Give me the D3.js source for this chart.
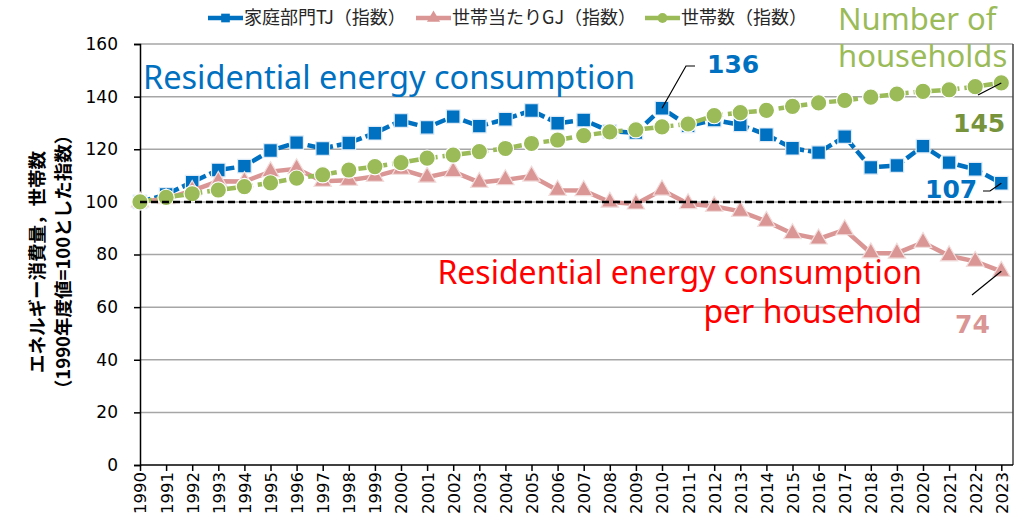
<!DOCTYPE html>
<html lang="ja">

<head>
    <meta charset="UTF-8">
    <title>家庭部門エネルギー消費量と世帯数</title>
    <script src="https://d3js.org/d3.v7.min.js"></script>
    <style>
        body {
            margin: 0;
            background: #fff;
        }

        svg text {
            font-family: "DejaVu Sans", sans-serif;
        }

        .jp {
            font-family: "Noto Sans CJK JP", sans-serif;
        }

        .note {
            font-family: "Noto Sans", sans-serif;
        }
    </style>
</head>

<body>
    <div id="chart"></div>

    <script>
        // ---- data ----
        const years = [1990, 1991, 1992, 1993, 1994, 1995, 1996, 1997, 1998, 1999,
            2000, 2001, 2002, 2003, 2004, 2005, 2006, 2007, 2008, 2009,
            2010, 2011, 2012, 2013, 2014, 2015, 2016, 2017, 2018, 2019,
            2020, 2021, 2022, 2023];

        // 家庭部門TJ（指数）
        const residentialTJ = [100, 102.8, 107.5, 112.1, 113.6, 119.5, 122.5, 120.3, 122.4, 126.1,
            130.9, 128.3, 132.4, 128.8, 131.4, 134.7, 129.9, 131.1, 126.8, 126.3,
            135.6, 128.9, 131.1, 129.3, 125.5, 120.4, 118.7, 124.8, 113.1, 113.8,
            121.2, 114.9, 112.4, 107.1];

        // 世帯当たりGJ（指数）
        const perHouseholdGJ = [100, 101.2, 104.3, 107.8, 107.7, 111.5, 112.6, 107.8, 108.2, 109.7,
            112.4, 109.4, 111.5, 107.4, 108.4, 109.8, 104.4, 104.3, 99.9, 99.2,
            104.5, 99.3, 98.3, 96.4, 92.6, 87.9, 85.9, 89.4, 80.6, 80.5,
            84.6, 79.5, 77.4, 73.6];

        // 世帯数（指数）
        const households = [100, 101.7, 103.1, 104.5, 105.8, 107.2, 109.0, 110.3, 112.1, 113.4,
            114.9, 116.6, 117.8, 119.1, 120.3, 122.2, 123.5, 125.2, 126.6, 127.4,
            128.5, 129.6, 132.8, 133.9, 134.8, 136.3, 137.6, 138.6, 139.8, 141.0,
            142.0, 142.6, 143.8, 145.2];

        const yTicks = [0, 20, 40, 60, 80, 100, 120, 140, 160];
        const seriesNames = ["家庭部門TJ（指数）", "世帯当たりGJ（指数）", "世帯数（指数）"];

        const width = 1017;
        const height = 526;
        const plot = { left: 140, right: 1001.3, edge: 1013, top: 44, bottom: 465 };

        const svg = d3.select("#chart")
            .append("svg")
            .attr("width", width)
            .attr("height", height);

        const x = d3.scalePoint()
            .domain(years)
            .range([plot.left, plot.right]);

        const y = d3.scaleLinear()
            .domain([0, 160])
            .range([plot.bottom, plot.top]);

        // ---- grid + frame ----
        svg.append("g")
            .selectAll("line")
            .data(yTicks.filter(d => d > 0))
            .join("line")
            .attr("x1", plot.left)
            .attr("x2", plot.edge)
            .attr("y1", d => y(d))
            .attr("y2", d => y(d))
            .attr("stroke", "#a6a6a6")
            .attr("stroke-width", 1.5);

        svg.append("line")
            .attr("x1", plot.edge).attr("x2", plot.edge)
            .attr("y1", plot.top).attr("y2", plot.bottom)
            .attr("stroke", "#404040")
            .attr("stroke-width", 1.5);

        // ---- axes ----
        const yAxis = svg.append("g")
            .attr("transform", `translate(${plot.left},0)`)
            .call(d3.axisLeft(y).tickValues(yTicks).tickSize(6).tickPadding(16));

        yAxis.selectAll("text")
            .attr("font-size", 17)
            .attr("fill", "#000");

        const xAxis = svg.append("g")
            .attr("transform", `translate(0,${plot.bottom})`)
            .call(d3.axisBottom(x).tickSize(6).tickSizeOuter(0));

        xAxis.select(".domain").attr("d", `M${plot.left},0H${plot.edge}`);

        xAxis.selectAll("text")
            .attr("font-size", 16.5)
            .attr("fill", "#000")
            .attr("text-anchor", "end")
            .attr("transform", "rotate(-90)")
            .attr("x", -7)
            .attr("y", 0)
            .attr("dy", "0.36em");

        svg.selectAll(".domain, .tick line")
            .attr("stroke", "#000")
            .attr("stroke-width", 1.5);

        // y axis title (two rotated lines)
        const title = svg.append("text")
            .attr("class", "jp")
            .attr("transform", `translate(0,262) rotate(-90)`)
            .attr("text-anchor", "middle")
            .attr("font-size", 18.5)
            .attr("font-weight", "bold");
        title.append("tspan").attr("x", 0).attr("y", 44).text("エネルギー消費量，世帯数");
        title.append("tspan").attr("x", 0).attr("y", 70).text("（1990年度値=100とした指数）");

        // ---- series ----
        const series = [
            { name: seriesNames[0], values: residentialTJ, color: "#0070c0", dash: "11,4", marker: "square" },
            { name: seriesNames[1], values: perHouseholdGJ, color: "#d99694", dash: null, marker: "triangle" },
            { name: seriesNames[2], values: households, color: "#9bbb59", dash: "12,5", marker: "circle" }
        ];

        const symbolType = { square: d3.symbolSquare, triangle: d3.symbolTriangle, circle: d3.symbolCircle };
        const symbolSize = { square: 185, triangle: 130, circle: 210 };
        const markerStroke = { square: "#deebf7", triangle: "#f2dcdb", circle: "#fff" };

        const line = d3.line()
            .x((d, i) => x(years[i]))
            .y(d => y(d));

        series.forEach(s => {
            const g = svg.append("g");
            g.append("path")
                .datum(s.values)
                .attr("d", line)
                .attr("fill", "none")
                .attr("stroke", s.color)
                .attr("stroke-width", 4.5)
                .attr("stroke-dasharray", s.dash);

            g.selectAll("path.mk")
                .data(s.values)
                .join("path")
                .attr("class", "mk")
                .attr("d", d3.symbol(symbolType[s.marker], symbolSize[s.marker]))
                .attr("transform", (d, i) => `translate(${x(years[i])},${y(d)})`)
                .attr("fill", s.color)
                .attr("stroke", markerStroke[s.marker])
                .attr("stroke-width", 1.2);
        });

        // 100 reference line on top
        svg.append("line")
            .attr("x1", plot.left)
            .attr("x2", plot.right)
            .attr("y1", y(100))
            .attr("y2", y(100))
            .attr("stroke", "#000")
            .attr("stroke-width", 2.5)
            .attr("stroke-dasharray", "7,4");

        // ---- legend ----
        const legendX = [208, 416, 645];
        const legend = svg.append("g");
        series.forEach((s, i) => {
            const lg = legend.append("g").attr("transform", `translate(${legendX[i]},18)`);
            lg.append("line")
                .attr("x1", 0).attr("x2", 35)
                .attr("stroke", s.color)
                .attr("stroke-width", 4.5);
            lg.append("path")
                .attr("d", d3.symbol(symbolType[s.marker], 75)())
                .attr("transform", "translate(17.5,0)")
                .attr("fill", s.color);
            lg.append("text")
                .attr("class", "jp")
                .attr("x", 36)
                .attr("dy", "0.36em")
                .attr("font-size", 18)
                .attr("fill", "#262626")
                .text(s.name);
        });

        // ---- annotations ----
        const last = years.length - 1;
        const i2010 = years.indexOf(2010);

        svg.append("text").attr("class", "note")
            .attr("x", 143).attr("y", 89)
            .attr("font-size", 32.5).attr("fill", "#0070c0")
            .text("Residential energy consumption");

        svg.append("text").attr("class", "note")
            .attr("x", 922).attr("y", 284)
            .attr("text-anchor", "end")
            .attr("font-size", 32).attr("fill", "#ff0000")
            .text("Residential energy consumption");
        svg.append("text").attr("class", "note")
            .attr("x", 922).attr("y", 323)
            .attr("text-anchor", "end")
            .attr("font-size", 32).attr("fill", "#ff0000")
            .text("per household");

        svg.append("text").attr("class", "note")
            .attr("x", 838).attr("y", 30)
            .attr("font-size", 31).attr("fill", "#9bbb59")
            .text("Number of");
        svg.append("text").attr("class", "note")
            .attr("x", 838).attr("y", 67)
            .attr("font-size", 31).attr("fill", "#9bbb59")
            .text("households");

        // value labels with leader lines
        const labels = [
            { text: "136", color: "#0070c0", tx: 707, ty: 73, px: x(2010), py: y(residentialTJ[i2010]), path: [[686, 66], [695, 66]] },
            { text: "145", color: "#77933c", tx: 953, ty: 132, px: x(2023), py: y(households[last]), path: [[978, 95]] },
            { text: "107", color: "#0070c0", tx: 925, ty: 198, px: x(2023), py: y(residentialTJ[last]), path: [[990, 191], [983, 191]] },
            { text: "74", color: "#d99694", tx: 955, ty: 333, px: x(2023), py: y(perHouseholdGJ[last]), path: [[972, 295]] }
        ];

        labels.forEach(l => {
            svg.append("path")
                .attr("d", d3.line()([[l.px, l.py], ...l.path]))
                .attr("fill", "none")
                .attr("stroke", "#000")
                .attr("stroke-width", 1.2);
            svg.append("text")
                .attr("x", l.tx).attr("y", l.ty)
                .attr("font-size", 25)
                .attr("font-weight", "bold")
                .attr("fill", l.color)
                .text(l.text);
        });
    </script>
</body>

</html>
